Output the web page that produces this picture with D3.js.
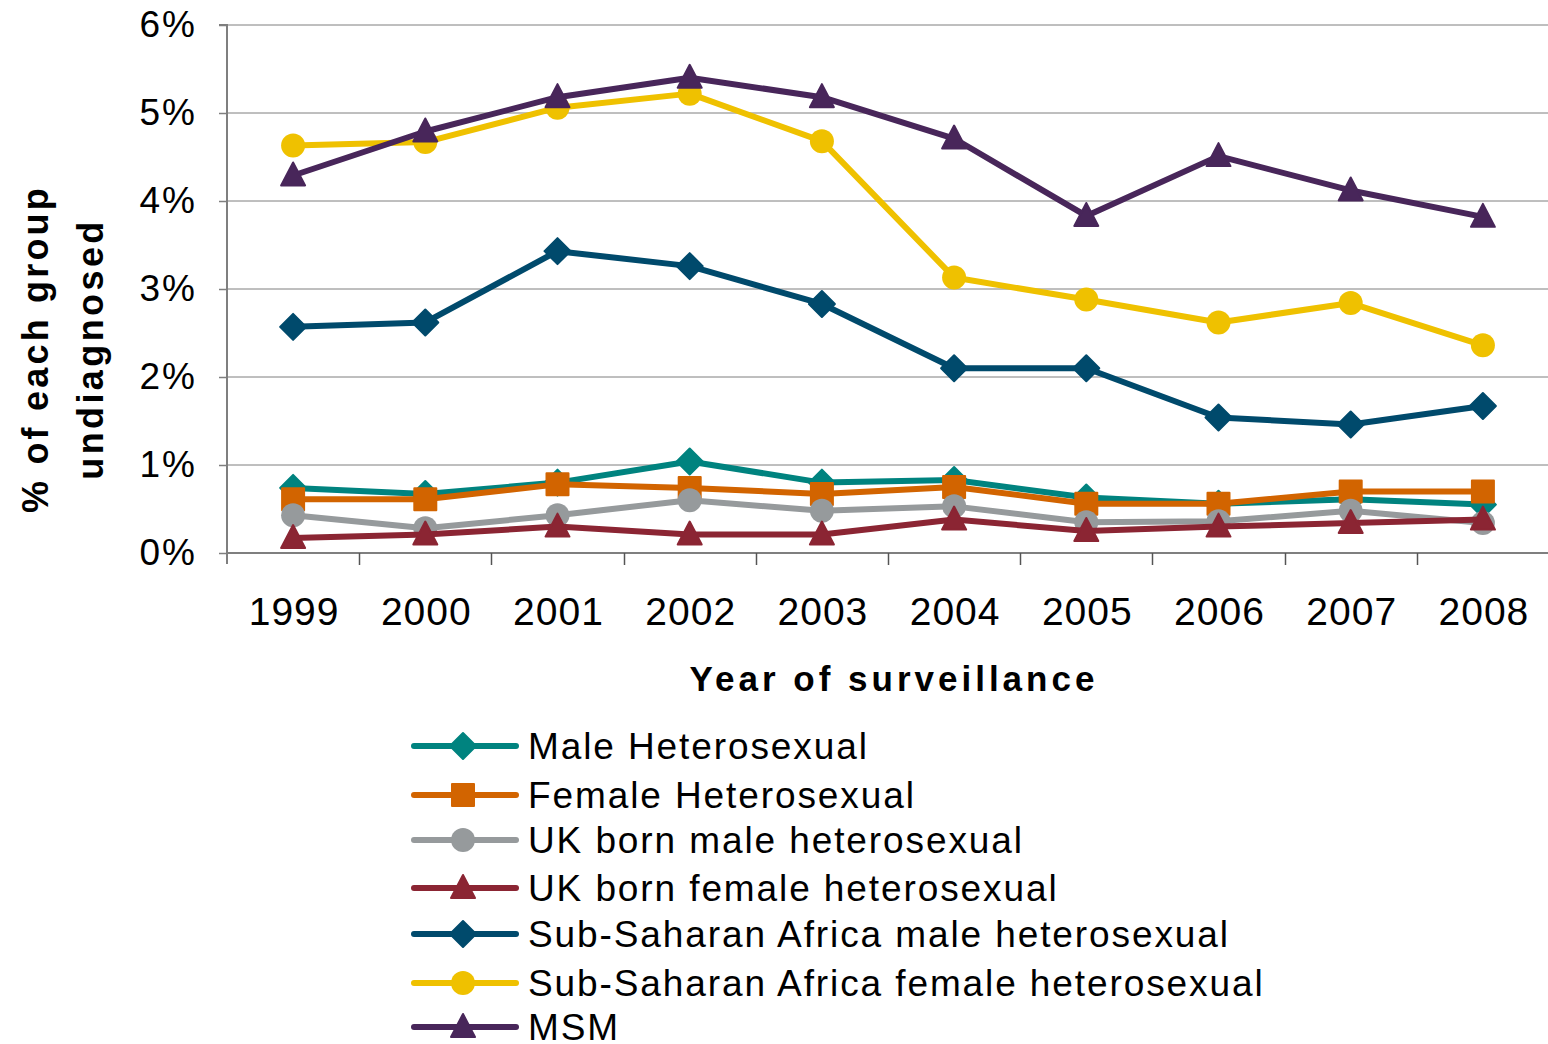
<!DOCTYPE html>
<html>
<head>
<meta charset="utf-8">
<script src="https://cdn.jsdelivr.net/npm/d3@7"></script>
<style>
  html, body { margin: 0; padding: 0; background: #fff; }
  svg { display: block; font-family: "Liberation Sans", Arial, sans-serif; }
</style>
</head>
<body>
<svg id="chart" width="1548" height="1044"></svg>
<script>
// Survey years on the x axis
const years = ["1999", "2000", "2001", "2002", "2003", "2004", "2005", "2006", "2007", "2008"];

// Percentage of each group undiagnosed, by year
const maleHetero       = [0.74, 0.67, 0.80, 1.04, 0.80, 0.83, 0.63, 0.56, 0.61, 0.55];
const femaleHetero     = [0.61, 0.61, 0.78, 0.74, 0.67, 0.75, 0.56, 0.56, 0.70, 0.70];
const ukMaleHetero     = [0.43, 0.28, 0.43, 0.60, 0.48, 0.53, 0.35, 0.36, 0.48, 0.34];
const ukFemaleHetero   = [0.17, 0.21, 0.30, 0.21, 0.21, 0.38, 0.25, 0.30, 0.34, 0.38];
const ssaMaleHetero    = [2.57, 2.62, 3.43, 3.26, 2.83, 2.10, 2.10, 1.54, 1.46, 1.67];
const ssaFemaleHetero  = [4.63, 4.67, 5.06, 5.22, 4.68, 3.13, 2.88, 2.62, 2.84, 2.36];
const msm              = [4.29, 4.79, 5.18, 5.40, 5.18, 4.71, 3.83, 4.51, 4.12, 3.82];

const yTicks = [0, 1, 2, 3, 4, 5, 6];

const series = [
  { name: "Male Heterosexual",                      values: maleHetero,      color: "#00837f", marker: "diamond" },
  { name: "Female Heterosexual",                    values: femaleHetero,    color: "#d26400", marker: "square" },
  { name: "UK born male heterosexual",              values: ukMaleHetero,    color: "#969a9c", marker: "circle" },
  { name: "UK born female heterosexual",            values: ukFemaleHetero,  color: "#8b2533", marker: "triangle" },
  { name: "Sub-Saharan Africa male heterosexual",   values: ssaMaleHetero,   color: "#004a6c", marker: "diamond" },
  { name: "Sub-Saharan Africa female heterosexual", values: ssaFemaleHetero, color: "#efc100", marker: "circle" },
  { name: "MSM",                                    values: msm,             color: "#48265a", marker: "triangle" }
];

const svg = d3.select("#chart");
const plot = { left: 227, right: 1549, top: 25, bottom: 553 };

const xBand = d3.scaleBand().domain(years).range([plot.left, plot.right]);
const x = d3.scalePoint().domain(years).range([plot.left, plot.right]).padding(0.5);
const y = d3.scaleLinear().domain([0, 6]).range([plot.bottom, plot.top]);

// Horizontal gridlines
svg.append("g")
  .selectAll("line")
  .data(yTicks.slice(1))
  .join("line")
  .attr("x1", plot.left).attr("x2", plot.right)
  .attr("y1", d => y(d)).attr("y2", d => y(d))
  .attr("stroke", "#7f7f7f").attr("stroke-width", 1);

// Y axis
const yAxis = svg.append("g")
  .attr("transform", `translate(${plot.left},0)`)
  .call(d3.axisLeft(y).tickValues(yTicks).tickFormat(d => d + "%").tickSize(8).tickPadding(22));
yAxis.select(".domain").attr("stroke", "#7f7f7f").attr("stroke-width", 2)
  .attr("d", `M-8,${plot.top}H0V${plot.bottom + 11}`);
yAxis.selectAll(".tick line").attr("stroke", "#7f7f7f").attr("stroke-width", 1.5);
yAxis.selectAll(".tick text").attr("font-size", 37).attr("fill", "#000")
  .attr("letter-spacing", 2)
  .attr("font-family", "Liberation Sans, Arial, sans-serif");

// X axis: tick marks sit between categories
const xAxis = svg.append("g")
  .attr("transform", `translate(0,${plot.bottom})`);
xAxis.append("line")
  .attr("x1", plot.left).attr("x2", plot.right)
  .attr("y1", 0).attr("y2", 0)
  .attr("stroke", "#7f7f7f").attr("stroke-width", 2);
xAxis.selectAll("line.tick")
  .data(years.slice(1))
  .join("line")
  .attr("class", "tick")
  .attr("x1", d => Math.round(xBand(d)) + 0.5).attr("x2", d => Math.round(xBand(d)) + 0.5)
  .attr("y1", 0).attr("y2", 12)
  .attr("stroke", "#555").attr("stroke-width", 1.5);
xAxis.selectAll("text")
  .data(years)
  .join("text")
  .attr("x", d => x(d) + 1)
  .attr("y", 72)
  .attr("text-anchor", "middle")
  .attr("font-size", 39)
  .attr("letter-spacing", 1)
  .text(d => d);

// Axis titles
svg.append("text")
  .attr("x", 894).attr("y", 691)
  .attr("text-anchor", "middle")
  .attr("font-size", 35).attr("font-weight", "bold")
  .attr("letter-spacing", 4)
  .text("Year of surveillance");

const yTitle = svg.append("g").attr("transform", "translate(0,349) rotate(-90)");
yTitle.append("text")
  .attr("x", 0).attr("y", 48)
  .attr("text-anchor", "middle")
  .attr("font-size", 36).attr("font-weight", "bold")
  .attr("letter-spacing", 3.2)
  .text("% of each group");
yTitle.append("text")
  .attr("x", 0).attr("y", 103)
  .attr("text-anchor", "middle")
  .attr("font-size", 36).attr("font-weight", "bold")
  .attr("letter-spacing", 3.4)
  .text("undiagnosed");

// Marker shapes
function markerPath(kind) {
  switch (kind) {
    case "diamond":  return "M0,-13L13,0L0,13L-13,0Z";
    case "square":   return "M-11,-11H11V11H-11Z";
    case "triangle": return "M0,-13L12,10H-12Z";
    default:         return null;
  }
}
function drawMarker(g, kind, color) {
  if (kind === "circle") {
    g.append("circle").attr("r", 12).attr("fill", color);
  } else {
    g.append("path").attr("d", markerPath(kind)).attr("fill", color)
      .attr("stroke", color).attr("stroke-width", 2).attr("stroke-linejoin", "round");
  }
}

const line = d3.line()
  .x((d, i) => x(years[i]))
  .y(d => y(d));

// Series lines and markers, drawn in legend order
series.forEach(s => {
  const g = svg.append("g");
  g.append("path")
    .attr("d", line(s.values))
    .attr("fill", "none")
    .attr("stroke", s.color)
    .attr("stroke-width", 6)
    .attr("stroke-linejoin", "round");
  s.values.forEach((v, i) => {
    const m = g.append("g").attr("transform", `translate(${x(years[i])},${y(v)})`);
    drawMarker(m, s.marker, s.color);
  });
});

// Legend
const legendRows = [746, 795, 840, 888, 934, 983, 1027];
const legend = svg.append("g");
series.forEach((s, i) => {
  const row = legend.append("g").attr("transform", `translate(0,${legendRows[i]})`);
  row.append("line")
    .attr("x1", 414).attr("x2", 516).attr("y1", 0).attr("y2", 0)
    .attr("stroke", s.color).attr("stroke-width", 6).attr("stroke-linecap", "round");
  const m = row.append("g").attr("transform", "translate(463,0)");
  drawMarker(m, s.marker, s.color);
  row.append("text")
    .attr("x", 528).attr("y", 13)
    .attr("font-size", 37)
    .attr("letter-spacing", 1.9)
    .text(s.name);
});
</script>
</body>
</html>
